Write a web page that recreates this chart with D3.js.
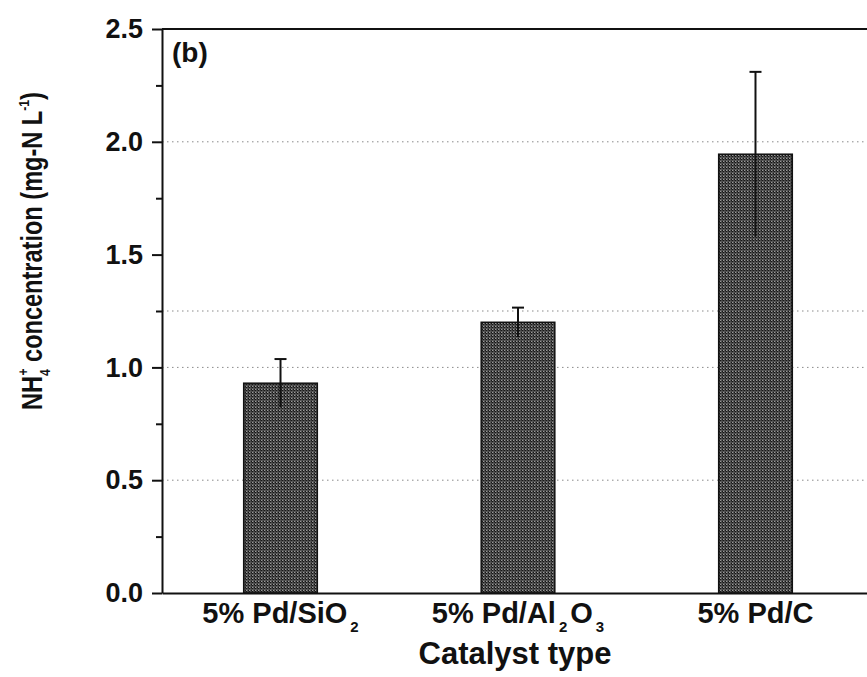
<!DOCTYPE html>
<html>
<head>
<meta charset="utf-8">
<script src="https://cdn.jsdelivr.net/npm/d3@7"></script>
<style>
  html, body { margin: 0; padding: 0; background: #fff; }
  svg { display: block; }
  text { font-family: "Liberation Sans", Arial, Helvetica, sans-serif; font-weight: bold; fill: #111; }
</style>
</head>
<body>
<svg id="chart" width="867" height="677"></svg>
<script>
// ---- data ----
const categories = ["5% Pd/SiO2", "5% Pd/Al2O3", "5% Pd/C"];
// tick label pieces: [text, isSubscript]
const categoryLabels = [
  [["5% Pd/SiO", 0], ["2", 1]],
  [["5% Pd/Al", 0], ["2", 1], ["O", 0], ["3", 1]],
  [["5% Pd/C", 0]]
];
const values = [0.93, 1.20, 1.945];
const errors = [0.107, 0.065, 0.365];
const yMajorTicks = [0, 0.5, 1.0, 1.5, 2.0, 2.5];
const yMinorTicks = [0.25, 0.75, 1.25, 1.75, 2.25];
const faintLines = [0.5, 1.0, 1.25, 2.0];
const panelLabel = "(b)";
const xTitle = "Catalyst type";

// ---- layout ----
const W = 867, H = 677;
const mLeft = 162, mTop = 29, mBottom = 593, rightEnd = 874;

const svg = d3.select("#chart");

const defs = svg.append("defs");
const pat = defs.append("pattern")
  .attr("id", "hatch").attr("patternUnits", "userSpaceOnUse")
  .attr("width", 3).attr("height", 3);
pat.append("rect").attr("width", 3).attr("height", 3).attr("fill", "#9a9a9a");
pat.append("rect").attr("x", 0).attr("y", 0).attr("width", 1.5).attr("height", 1.5).attr("fill", "#161616");
pat.append("rect").attr("x", 1.5).attr("y", 1.5).attr("width", 1.5).attr("height", 1.5).attr("fill", "#161616");
pat.append("rect").attr("x", 1.5).attr("y", 0).attr("width", 1.5).attr("height", 1.5).attr("fill", "#3a3a3a");

const x = d3.scaleBand().domain(categories).range([mLeft, rightEnd])
  .paddingInner(0.69).paddingOuter(0.344);
const y = d3.scaleLinear().domain([0, 2.5]).range([mBottom, mTop]);

// faint dotted lines
svg.append("g").selectAll("line").data(faintLines).join("line")
  .attr("x1", mLeft).attr("x2", W)
  .attr("y1", d => y(d)).attr("y2", d => y(d))
  .attr("stroke", "#8a8a8a").attr("stroke-width", 1)
  .attr("stroke-dasharray", "1.5,3.5");

// bars
svg.append("g").selectAll("rect").data(categories).join("rect")
  .attr("x", d => x(d))
  .attr("y", (d, i) => y(values[i]))
  .attr("width", x.bandwidth())
  .attr("height", (d, i) => y(0) - y(values[i]))
  .attr("fill", "url(#hatch)")
  .attr("stroke", "#111").attr("stroke-width", 1.5);

// error bars
const eb = svg.append("g").attr("stroke", "#111").attr("stroke-width", 2);
categories.forEach((c, i) => {
  const cx = x(c) + x.bandwidth() / 2;
  eb.append("line").attr("x1", cx).attr("x2", cx)
    .attr("y1", y(values[i] - errors[i])).attr("y2", y(values[i] + errors[i]));
  eb.append("line").attr("x1", cx - 6).attr("x2", cx + 6)
    .attr("y1", y(values[i] + errors[i])).attr("y2", y(values[i] + errors[i]));
});

// y axis (minor ticks)
svg.append("g").attr("transform", `translate(${mLeft},0)`)
  .call(d3.axisLeft(y).tickValues(yMinorTicks).tickSize(6).tickFormat(""))
  .call(g => g.select(".domain").remove())
  .call(g => g.selectAll("line").attr("stroke", "#111").attr("stroke-width", 2));

// y axis (major)
const yAx = svg.append("g").attr("transform", `translate(${mLeft},0)`)
  .call(d3.axisLeft(y).tickValues(yMajorTicks).tickSize(10).tickSizeOuter(0)
    .tickPadding(9).tickFormat(d3.format(".1f")));
yAx.select(".domain").attr("stroke", "#111").attr("stroke-width", 2);
yAx.selectAll(".tick line").attr("stroke", "#111").attr("stroke-width", 2);
yAx.selectAll(".tick text").attr("font-size", 27)
  .style("font-family", '"Liberation Sans", Arial, sans-serif').style("font-weight", "bold").attr("fill", "#111");

// bottom axis
const xAx = svg.append("g").attr("transform", `translate(0,${mBottom})`)
  .call(d3.axisBottom(x).tickSize(0).tickSizeOuter(0).tickFormat(""));
xAx.select(".domain").attr("stroke", "#111").attr("stroke-width", 2);

// top frame line
svg.append("line").attr("x1", mLeft).attr("x2", W)
  .attr("y1", y(2.5)).attr("y2", y(2.5))
  .attr("stroke", "#111").attr("stroke-width", 2);

// x tick labels with subscripts
categories.forEach((c, i) => {
  const t = svg.append("text")
    .attr("x", x(c) + x.bandwidth() / 2)
    .attr("y", 623)
    .attr("text-anchor", "middle")
    .attr("font-size", 29);
  let sub = false;
  categoryLabels[i].forEach(([s, isSub]) => {
    const ts = t.append("tspan").text(s);
    if (isSub && !sub) { ts.attr("dy", 9).attr("dx", 3).attr("font-size", 15); sub = true; }
    else if (!isSub && sub) { ts.attr("dy", -9).attr("dx", 3); sub = false; }
    else if (isSub) { ts.attr("font-size", 15); }
  });
});

// x title
svg.append("text").attr("x", 515).attr("y", 664)
  .attr("text-anchor", "middle").attr("font-size", 31).text(xTitle);

// panel label
svg.append("text").attr("x", 172).attr("y", 62)
  .attr("font-size", 28).text(panelLabel);

// y title
const yt = svg.append("g").attr("transform", "translate(42,251) rotate(-90)");
const ytText = yt.append("text").attr("text-anchor", "middle").attr("font-size", 29);
ytText.append("tspan").text("NH");
ytText.append("tspan").text("4").attr("font-size", 15).attr("dy", 8);
ytText.append("tspan").text("+").attr("font-size", 15).attr("dx", -8).attr("dy", -22);
ytText.append("tspan").text(" concentration (mg-N L").attr("dy", 14);
ytText.append("tspan").text("-1").attr("font-size", 15).attr("dy", -13);
ytText.append("tspan").text(")").attr("dy", 13);
const bb = ytText.node().getBBox();
const sx = 318 / bb.width;
ytText.attr("transform", `scale(${sx},1)`);
</script>
</body>
</html>
